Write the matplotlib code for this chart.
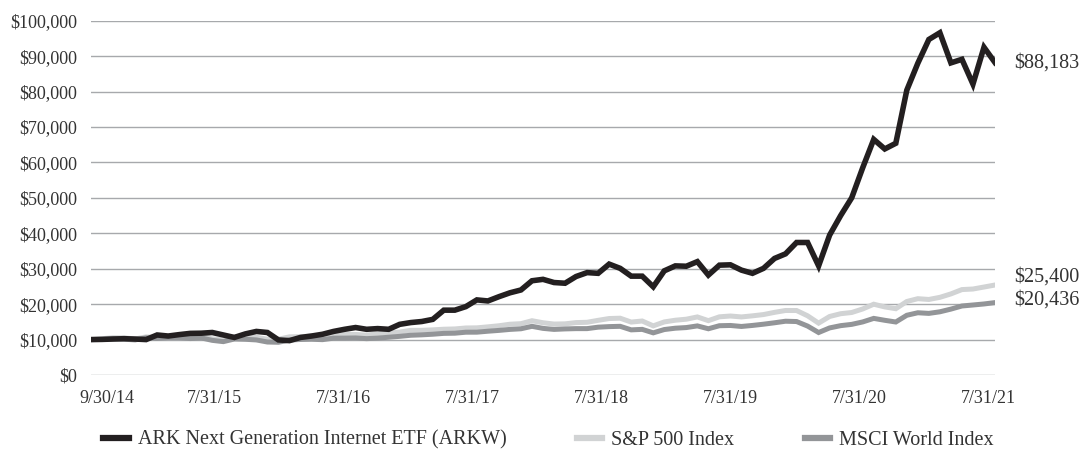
import matplotlib
matplotlib.use('Agg')
import matplotlib.pyplot as plt
from matplotlib.ticker import FuncFormatter
import matplotlib.transforms as mtransforms

plt.rcParams['font.family'] = ['Liberation Serif', 'DejaVu Serif']

# growth of $10,000, month-end values from 9/30/14 to 7/31/21
arkw = [10000, 10050, 10150, 10250, 10150, 10000, 11300, 11000, 11400, 11750,
        11800, 12000, 11300, 10600, 11600, 12300, 12000, 9900, 9700, 10600,
        11000, 11500, 12300, 12900, 13400, 12900, 13100, 12900, 14300, 14800,
        15100, 15700, 18300, 18300, 19300, 21200, 20900, 22100, 23200, 24000,
        26600, 27000, 26100, 25900, 27800, 28900, 28700, 31300, 30100, 27900,
        27900, 24900, 29400, 30800, 30700, 32000, 28200, 31000, 31100, 29600,
        28700, 30100, 32900, 34200, 37400, 37400, 30800, 39500, 45000, 50000,
        58500, 66500, 63800, 65400, 80400, 88000, 94700, 96600, 88100, 89100,
        82100, 92500, 88183]
sp500 = [10000, 10240, 10520, 10490, 10170, 10760, 10590, 10690, 10830, 10620,
         10840, 10190, 9930, 10770, 10800, 10630, 10100, 10090, 10770, 10810,
         11000, 11030, 11440, 11450, 11450, 11250, 11660, 11890, 12120, 12600,
         12610, 12740, 12920, 13000, 13270, 13310, 13590, 13900, 14330, 14490,
         15320, 14750, 14380, 14440, 14790, 14880, 15430, 15940, 16030, 14940,
         15240, 13870, 14980, 15460, 15750, 16390, 15340, 16420, 16650, 16390,
         16700, 17060, 17680, 18210, 18200, 16710, 14640, 16520, 17300, 17640,
         18640, 19980, 19220, 18710, 20750, 21540, 21320, 21920, 22890, 24110,
         24270, 24830, 25400]
msci = [10000, 10060, 10260, 10100, 9910, 10490, 10320, 10560, 10550, 10290,
        10470, 9780, 9420, 10160, 10080, 9900, 9310, 9240, 9870, 10030,
        10090, 9980, 10400, 10410, 10460, 10260, 10410, 10660, 10910, 11220,
        11340, 11510, 11750, 11800, 12080, 12090, 12360, 12590, 12870, 13050,
        13740, 13160, 12870, 13010, 13090, 13090, 13500, 13660, 13740, 12740,
        12880, 11900, 12830, 13210, 13390, 13860, 13050, 13910, 13980, 13700,
        13990, 14340, 14740, 15180, 15090, 13810, 11990, 13290, 13930, 14290,
        14980, 15980, 15440, 14960, 16860, 17570, 17390, 17840, 18600, 19480,
        19760, 20050, 20436]

tick_months = [0, 10, 22, 34, 46, 58, 70, 82]
tick_labels = ['9/30/14', '7/31/15', '7/31/16', '7/31/17', '7/31/18',
               '7/31/19', '7/31/20', '7/31/21']

names = ['ARK Next Generation Internet ETF (ARKW)', 'S&P 500 Index', 'MSCI World Index']
colors = ['#231f20', '#d1d3d4', '#939598']
text_color = '#333333'

months = list(range(len(arkw)))

fig = plt.figure(figsize=(10.82, 4.49), dpi=100)
ax = fig.add_axes([0.0841, 0.1648, 0.8355, 0.7891])

l2, = ax.plot(months, sp500, color=colors[1], lw=3.6, solid_joinstyle='miter', zorder=3)
l3, = ax.plot(months, msci, color=colors[2], lw=3.6, solid_joinstyle='miter', zorder=4)
l1, = ax.plot(months, arkw, color=colors[0], lw=4.0, solid_joinstyle='miter', zorder=5)

ax.set_xlim(0, len(arkw) - 1)
ax.set_ylim(0, 100000)
ax.set_yticks(range(0, 100001, 10000))
ax.yaxis.set_major_formatter(FuncFormatter(lambda v, p: '${:,.0f}'.format(v)))
ax.grid(axis='y', color='#a7a9ac', lw=1.0, zorder=1)
for s in ax.spines.values():
    s.set_visible(False)

# date labels are spread a little inside the plot edges
ax.set_xticks([1.45 + m * 0.975 for m in tick_months])
ax.set_xticklabels(tick_labels)
ax.tick_params(axis='x', length=0, pad=11, labelsize=13, labelcolor=text_color)
ax.tick_params(axis='y', length=0, pad=10, labelsize=13, labelcolor=text_color)

# ending values beside the last point of each line
ends = [(arkw[-1], 0), (sp500[-1], 6), (msci[-1], 2)]
for val, dy in ends:
    off = mtransforms.offset_copy(ax.transData, fig=fig, x=14, y=dy, units='points')
    ax.text(len(arkw) - 1, val, '${:,.0f}'.format(val), transform=off,
            ha='left', va='center', fontsize=14.5, color=text_color)

leg = fig.legend([l1, l2, l3], names, loc='center', bbox_to_anchor=(0.507, 0.02),
                 ncol=3, frameon=False, fontsize=14.5, handlelength=1.25,
                 handletextpad=0.45, columnspacing=3.5, labelcolor=text_color)
for h in leg.get_lines():
    h.set_linewidth(4.5)

fig.savefig('out.png', dpi=100)
